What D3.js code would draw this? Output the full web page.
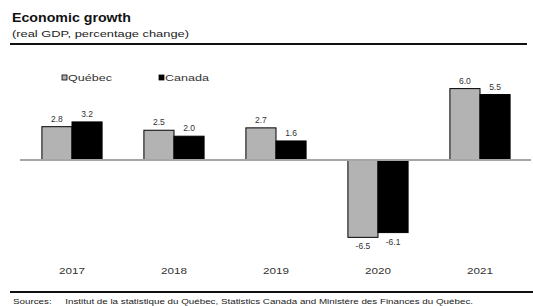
<!DOCTYPE html>
<html>
<head>
<meta charset="utf-8">
<script src="https://cdn.jsdelivr.net/npm/d3@7"></script>
<style>
  body { margin: 0; background: #fff; }
  text { font-family: "Liberation Sans", Arial, sans-serif; }
</style>
</head>
<body>
<script>
// Data
const years = ["2017", "2018", "2019", "2020", "2021"];
const quebec = [2.8, 2.5, 2.7, -6.5, 6.0];
const canada = [3.2, 2.0, 1.6, -6.1, 5.5];
const seriesNames = ["Québec", "Canada"];

const config = { width: 533, height: 306 };

const svg = d3.select("body")
  .append("svg")
  .attr("width", config.width)
  .attr("height", config.height);

// Header
svg.append("text")
  .attr("x", 12).attr("y", 22)
  .attr("font-size", 12).attr("font-weight", "bold")
  .attr("fill", "#111")
  .attr("textLength", 119).attr("lengthAdjust", "spacingAndGlyphs")
  .text("Economic growth");

svg.append("text")
  .attr("x", 12).attr("y", 37)
  .attr("font-size", 8.5)
  .attr("fill", "#222")
  .attr("textLength", 177).attr("lengthAdjust", "spacingAndGlyphs")
  .text("(real GDP, percentage change)");

svg.append("line")
  .attr("x1", 10).attr("x2", 527)
  .attr("y1", 44).attr("y2", 44)
  .attr("stroke", "#111").attr("stroke-width", 2);

// Scales
const x = d3.scaleBand()
  .domain(years)
  .range([21, 531])
  .paddingInner(0.41)
  .paddingOuter(0.205);

const xSub = d3.scaleBand()
  .domain(seriesNames)
  .range([0, x.bandwidth()]);

const y = d3.scaleLinear()
  .domain([-7, 7])
  .range([160 + 7 * 11.9, 160 - 7 * 11.9]);

const rows = years.map((yr, i) => ({ year: yr, values: [
  { name: "Québec", value: quebec[i] },
  { name: "Canada", value: canada[i] }
]}));

const colors = { "Québec": "#b3b3b3", "Canada": "#000" };

// Bars
const group = svg.selectAll(".year")
  .data(rows)
  .enter()
  .append("g")
  .attr("class", "year")
  .attr("transform", d => `translate(${x(d.year)},0)`);

group.selectAll("rect")
  .data(d => d.values)
  .enter()
  .append("rect")
  .attr("x", d => xSub(d.name))
  .attr("y", d => y(Math.max(0, d.value)))
  .attr("width", xSub.bandwidth())
  .attr("height", d => Math.abs(y(d.value) - y(0)))
  .attr("fill", d => colors[d.name])
  .attr("stroke", "#000")
  .attr("stroke-width", 1);

group.selectAll(".val")
  .data(d => d.values)
  .enter()
  .append("text")
  .attr("class", "val")
  .attr("x", d => xSub(d.name) + xSub.bandwidth() / 2)
  .attr("y", d => d.value >= 0 ? y(d.value) - 5 : y(d.value) + 12)
  .attr("text-anchor", "middle")
  .attr("font-size", 8.5)
  .attr("fill", "#333")
  .text(d => d.value.toFixed(1));

// Zero line
svg.append("line")
  .attr("x1", 20).attr("x2", 531)
  .attr("y1", y(0)).attr("y2", y(0))
  .attr("stroke", "#a6a6a6").attr("stroke-width", 2);

// Year labels
svg.selectAll(".yr")
  .data(years)
  .enter()
  .append("text")
  .attr("class", "yr")
  .attr("x", d => x(d) + x.bandwidth() / 2 - 13)
  .attr("y", 274)
  .attr("font-size", 9.5)
  .attr("fill", "#333")
  .attr("textLength", 26).attr("lengthAdjust", "spacingAndGlyphs")
  .text(d => d);

// Legend
const legend = svg.selectAll(".legend")
  .data(seriesNames)
  .enter()
  .append("g")
  .attr("class", "legend")
  .attr("transform", (d, i) => `translate(${62 + i * 97},75)`);

legend.append("rect")
  .attr("width", 5).attr("height", 5)
  .attr("fill", d => colors[d])
  .attr("stroke", "#000").attr("stroke-width", 0.8);

legend.append("text")
  .attr("x", 6).attr("y", 6)
  .attr("font-size", 8.5)
  .attr("fill", "#333")
  .attr("textLength", 44).attr("lengthAdjust", "spacingAndGlyphs")
  .text(d => d);

// Footer
svg.append("line")
  .attr("x1", 10).attr("x2", 533)
  .attr("y1", 292).attr("y2", 292)
  .attr("stroke", "#111").attr("stroke-width", 2);

svg.append("text")
  .attr("x", 13).attr("y", 304)
  .attr("font-size", 7.5)
  .attr("fill", "#222")
  .attr("xml:space", "preserve")
  .attr("textLength", 460).attr("lengthAdjust", "spacingAndGlyphs")
  .text("Sources:     Institut de la statistique du Québec, Statistics Canada and Ministère des Finances du Québec.");
</script>
</body>
</html>
